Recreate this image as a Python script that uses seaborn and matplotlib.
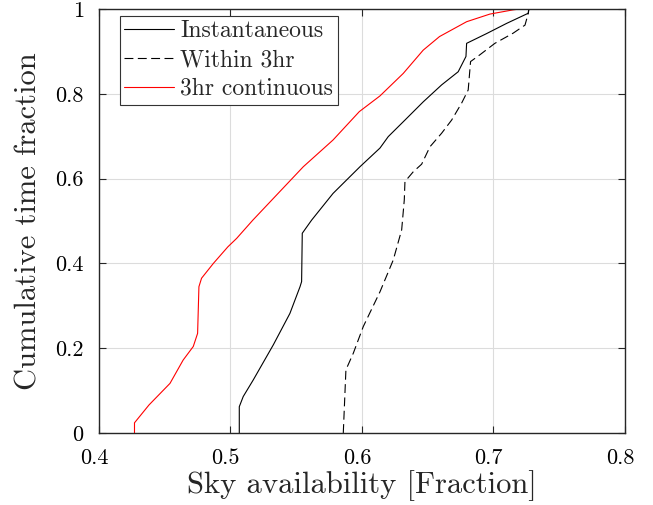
import matplotlib
matplotlib.use("Agg")
import matplotlib.pyplot as plt
import matplotlib.transforms as mtransforms
import seaborn as sns
from matplotlib.ticker import FuncFormatter

# Instantaneous (solid black)
inst_x = [0.5067, 0.5067, 0.5097, 0.5173, 0.5326, 0.5452, 0.5529, 0.5541, 0.5546, 0.5617,
          0.578, 0.5985, 0.6137, 0.62, 0.6327, 0.6466, 0.6606, 0.6732, 0.6791, 0.6796,
          0.6948, 0.71, 0.7265, 0.7268]
inst_y = [0.0, 0.062, 0.086, 0.125, 0.208, 0.282, 0.345, 0.357, 0.471, 0.502,
          0.565, 0.628, 0.672, 0.699, 0.738, 0.781, 0.821, 0.852, 0.888, 0.919,
          0.942, 0.966, 0.990, 1.0]

# Within 3hr (dashed black)
w3_x = [0.5858, 0.5878, 0.5934, 0.601, 0.6137, 0.6238, 0.6302, 0.6322, 0.6327, 0.639,
        0.6454, 0.6517, 0.6606, 0.6682, 0.6758, 0.6808, 0.6826, 0.6897, 0.7011, 0.715,
        0.724, 0.7265, 0.727]
w3_y = [0.0, 0.149, 0.188, 0.251, 0.333, 0.408, 0.479, 0.55, 0.593, 0.616,
        0.634, 0.675, 0.707, 0.738, 0.778, 0.809, 0.876, 0.892, 0.919, 0.943,
        0.962, 0.990, 1.0]

# 3hr continuous (red)
c3_x = [0.427, 0.427, 0.438, 0.454, 0.464, 0.4717, 0.475, 0.476, 0.478, 0.487,
        0.498, 0.5047, 0.517, 0.5554, 0.578, 0.598, 0.6137, 0.6314, 0.6466, 0.659,
        0.6796, 0.6973, 0.715, 0.72]
c3_y = [0.0, 0.024, 0.066, 0.117, 0.172, 0.204, 0.235, 0.345, 0.365, 0.400,
        0.439, 0.459, 0.502, 0.628, 0.691, 0.758, 0.795, 0.848, 0.903, 0.935,
        0.970, 0.988, 0.998, 1.0]

sns.set_theme(style="whitegrid")
plt.rcParams["font.family"] = ["cmr10", "DejaVu Serif"]
plt.rcParams["mathtext.fontset"] = "cm"
plt.rcParams["axes.formatter.use_mathtext"] = True
plt.rcParams["axes.unicode_minus"] = False

fig = plt.figure(figsize=(6.53, 5.05), dpi=100)
ax = fig.add_axes([0.1516, 0.1426, 0.8054, 0.8396])
ax.set_facecolor("white")

sns.lineplot(x=inst_x, y=inst_y, sort=False, estimator=None, color="black",
             linewidth=0.8, label="Instantaneous", ax=ax)
sns.lineplot(x=w3_x, y=w3_y, sort=False, estimator=None, color="black",
             linewidth=0.8, label="Within 3hr", ax=ax)
ax.lines[-1].set_dashes((8, 4))
sns.lineplot(x=c3_x, y=c3_y, sort=False, estimator=None, color="red",
             linewidth=0.8, label="3hr continuous", ax=ax)

ax.set_xlim(0.4, 0.8)
ax.set_ylim(0, 1)
ax.set_xticks([0.4, 0.5, 0.6, 0.7, 0.8])
ax.set_yticks([0, 0.2, 0.4, 0.6, 0.8, 1.0])
fmt = FuncFormatter(lambda v, p: "%g" % round(v, 2))
ax.xaxis.set_major_formatter(fmt)
ax.yaxis.set_major_formatter(fmt)

ax.grid(True, color="#dcdcdc", linewidth=0.8)
for s in ax.spines.values():
    s.set_color("#262626")
    s.set_linewidth(1.0)
ax.tick_params(direction="in", length=5, width=0.8, top=True, right=True,
               bottom=True, left=True, labelsize=16, colors="#262626",
               labelcolor="black")
ax.tick_params(axis="x", pad=11)
ax.tick_params(axis="y", pad=11)

# matlab-ish: x tick labels sit a bit left of their ticks
shift = mtransforms.ScaledTranslation(-5 / 100, 0, fig.dpi_scale_trans)
for lab in ax.get_xticklabels():
    lab.set_transform(lab.get_transform() + shift)

ax.set_xlabel("Sky availability [Fraction]", fontsize=22, labelpad=2)
ax.set_ylabel("Cumulative time fraction", fontsize=22, labelpad=9)

leg = ax.legend(loc="upper left", bbox_to_anchor=(0.035, 0.99), fontsize=17,
                frameon=True, fancybox=False, framealpha=1, edgecolor="#333333",
                borderpad=0.2, labelspacing=0.28, handlelength=2.1,
                handletextpad=0.25, borderaxespad=0.1)
leg.get_frame().set_linewidth(0.8)

fig.savefig("out.png", dpi=100)
